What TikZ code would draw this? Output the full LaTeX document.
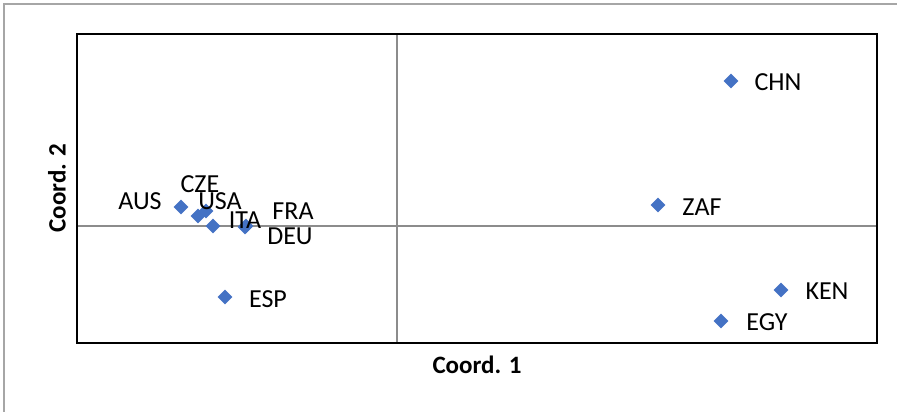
\documentclass[tikz,border=0pt]{standalone}
\usepackage{fontspec}
\setmainfont{Carlito}
\usetikzlibrary{shapes.geometric}
\definecolor{mk}{HTML}{4472C4}
\begin{document}
\begin{tikzpicture}[x=1pt,y=-1pt,
  pt/.style={diamond,fill=mk,draw=none,minimum size=15pt,inner sep=0pt},
  lbl/.style={font=\fontsize{26}{30}\selectfont,text height=16.5pt,text depth=0pt,inner sep=0pt},
  axl/.style={font=\fontsize{25}{29}\selectfont\bfseries,inner sep=0pt},
  grid/.style={draw=gray!90,line width=1.2pt},
  frame/.style={draw=gray!70,line width=1.5pt}]
\useasboundingbox (0,0) rectangle (897,412);
\draw[frame] (4,412) -- (4,4) -- (897,4);
\coordinate (gl) at (77,226); \coordinate (gr) at (877,226);
\coordinate (gt) at (397,34); \coordinate (gb) at (397,343);
\draw[grid] (gl) -- (gr);
\draw[grid] (gt) -- (gb);
\draw[line width=2.5pt] (77,34) rectangle (877,343);
\node[pt] (pCHN) at (731,81) {};
\node[pt] (pZAF) at (658,205) {};
\node[pt] (pKEN) at (781,290) {};
\node[pt] (pEGY) at (721,321) {};
\node[pt] (pESP) at (225,297) {};
\node[pt] (pAUS) at (181,207) {};
\node[pt] (pCZE) at (198,216) {};
\node[pt] (pUSA) at (206,211) {};
\node[pt] (pITA) at (213,226) {};
\node[pt] (pDEU) at (245,227) {};
\node[pt] (pFRA) at (246,226) {};
\node[lbl] (tCHN) at (778,82) {CHN};
\node[lbl] (tZAF) at (702,207) {ZAF};
\node[lbl] (tKEN) at (827,291) {KEN};
\node[lbl] (tEGY) at (767,322) {EGY};
\node[lbl] (tESP) at (268,299) {ESP};
\node[lbl] (tAUS) at (140,201) {AUS};
\node[lbl] (tCZE) at (200,184) {CZE};
\node[lbl] (tUSA) at (220,201) {USA};
\node[lbl] (tITA) at (245,220) {ITA};
\node[lbl] (tFRA) at (293,211) {FRA};
\node[lbl] (tDEU) at (290,236) {DEU};
\node[axl] (xl) at (477,365) {Coord. 1};
\node[axl,rotate=90] (yl) at (57,188) {Coord. 2};
\end{tikzpicture}
\end{document}
